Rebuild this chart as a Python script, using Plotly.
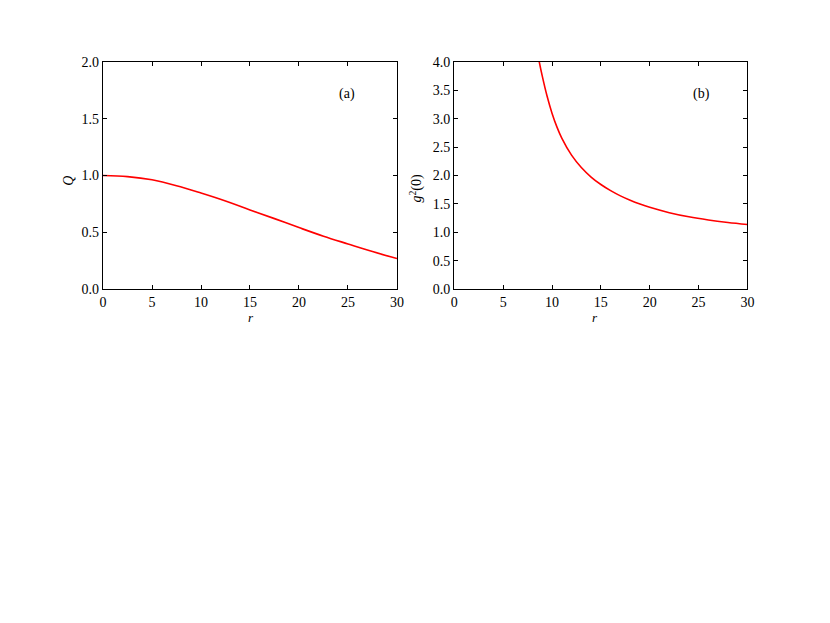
import plotly.graph_objects as go

# panel (a): Q versus r
r_q = [0, 2.5, 5, 7.5, 10, 12.5, 15, 17.5, 20, 22.5, 25, 27.5, 30]
q_vals = [1.0, 0.99, 0.962, 0.91, 0.845, 0.775, 0.697, 0.62, 0.541, 0.465, 0.397, 0.33, 0.268]

# panel (b): g2(0) versus r
r_g = [8.6, 8.7, 9.0, 9.5, 10, 10.5, 11, 12, 13, 14, 15, 16, 17, 18, 19, 20,
       22, 24, 26, 28, 30]
g_vals = [4.09, 4.0, 3.755, 3.395, 3.098, 2.856, 2.659, 2.358, 2.14, 1.973, 1.841, 1.733,
          1.641, 1.564, 1.497, 1.439, 1.345, 1.272, 1.216, 1.172, 1.137]

x_ticks = [0, 5, 10, 15, 20, 25, 30]
q_ticks = [0.0, 0.5, 1.0, 1.5, 2.0]
g_ticks = [0.0, 0.5, 1.0, 1.5, 2.0, 2.5, 3.0, 3.5, 4.0]

font = dict(family='Liberation Serif, DejaVu Serif, serif', size=14, color='black')
title_font = dict(family='Liberation Serif, DejaVu Serif, serif', size=14, color='black')
r_font = dict(family='Liberation Serif, DejaVu Serif, serif', size=13, color='black')

fig = go.Figure()
fig.add_trace(go.Scatter(x=r_q, y=q_vals, mode='lines', line=dict(color='#ff0000', width=1.6, shape='spline'),
                         xaxis='x', yaxis='y', showlegend=False))
fig.add_trace(go.Scatter(x=r_g, y=g_vals, mode='lines', line=dict(color='#ff0000', width=1.6, shape='spline'),
                         xaxis='x2', yaxis='y2', showlegend=False))

axis_style = dict(showline=True, linecolor='black', linewidth=1.2, mirror='ticks', ticks='inside',
                  ticklen=4, tickwidth=1, tickcolor='black', showgrid=False, zeroline=False,
                  automargin=False, tickfont=font)

# the page adds an 8px body margin, so the figure is 8px smaller than the window
fig.update_layout(
    template='none',
    width=822, height=615, margin=dict(l=0, r=0, t=0, b=0),
    paper_bgcolor='white', plot_bgcolor='white', font=font,
    xaxis=dict(domain=[0.1156, 0.4732], range=[0, 30], tickvals=x_ticks,
               ticktext=[str(t) for t in x_ticks], anchor='y', **axis_style),
    yaxis=dict(domain=[0.5431, 0.9122], range=[0, 2.0], tickvals=q_ticks,
               ticktext=['%.1f' % t for t in q_ticks], anchor='x', **axis_style),
    xaxis2=dict(domain=[0.5429, 0.8996], range=[0, 30], tickvals=x_ticks,
                ticktext=[str(t) for t in x_ticks], anchor='y2', **axis_style),
    yaxis2=dict(domain=[0.5431, 0.9122], range=[0, 4.0], tickvals=g_ticks,
                ticktext=['%.1f' % t for t in g_ticks], anchor='x2', **axis_style),
    annotations=[
        dict(text='(a)', x=24.9, y=1.72, xref='x', yref='y', showarrow=False, font=font),
        dict(text='(b)', x=25.3, y=3.44, xref='x2', yref='y2', showarrow=False, font=font),
        # axis titles
        dict(text='<i>Q</i>', x=0.0625, y=0.7301, xref='paper', yref='paper', showarrow=False,
             textangle=-90, font=title_font),
        dict(text='<i>g</i><sup>2</sup>(0)', x=0.4964, y=0.7333, xref='paper', yref='paper',
             showarrow=False, textangle=-90, font=title_font),
        dict(text='<i>r</i>', x=0.2894, y=0.4975, xref='paper', yref='paper', showarrow=False,
             font=r_font, yanchor='middle'),
        dict(text='<i>r</i>', x=0.7202, y=0.4975, xref='paper', yref='paper', showarrow=False,
             font=r_font, yanchor='middle'),
    ],
)

fig.write_html("out.html")
